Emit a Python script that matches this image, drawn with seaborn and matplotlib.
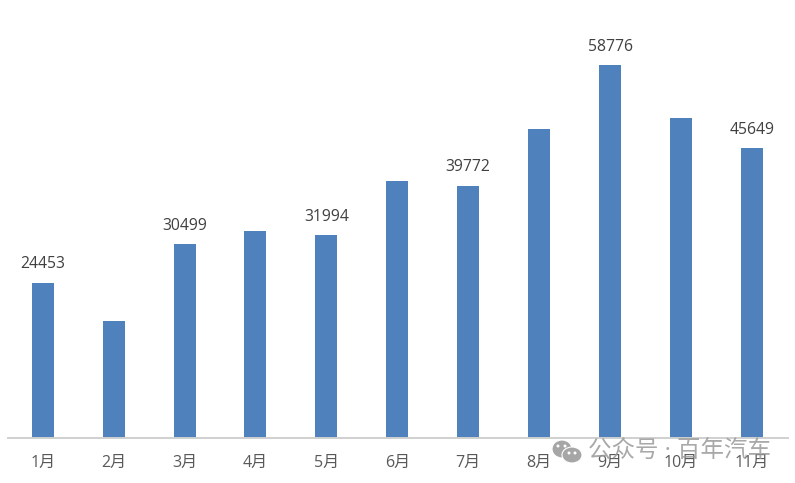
import matplotlib
matplotlib.use("Agg")
import matplotlib.pyplot as plt
from matplotlib.patches import Ellipse
from matplotlib.transforms import IdentityTransform
import seaborn as sns
import pandas as pd

months = ['1月', '2月', '3月', '4月', '5月', '6月', '7月', '8月', '9月', '10月', '11月']
sales = [24453, 18450, 30499, 32600, 31994, 40500, 39772, 48700, 58776, 50400, 45649]
labelled = ['1月', '3月', '5月', '7月', '9月', '11月']
watermark = '公众号 · 百年汽车'

sns.set_theme(style='white')
plt.rcParams['font.family'] = ['Open Sans', 'Noto Sans CJK SC', 'DejaVu Sans']

df = pd.DataFrame({'month': months, 'sales': sales})

W, H = 795, 483
fig = plt.figure(figsize=(W / 100, H / 100), dpi=100)
ax = fig.add_axes([8 / W, 1 - 438 / H, 780 / W, 438 / H])
sns.barplot(data=df, x='month', y='sales', color='#4f81bd', saturation=1, width=0.31, linewidth=0, ax=ax)

ax.set_xlim(-0.49, 10.51)
ax.set_ylim(0, 438 * 157.6)
ax.set_xlabel('')
ax.set_ylabel('')
ax.set_yticks([])
ax.tick_params(axis='x', length=0, labelsize=11.5, labelcolor='#595959', pad=12)
sns.despine(ax=ax, left=True)
ax.spines['bottom'].set_color('#d0d0d0')
ax.spines['bottom'].set_linewidth(1.4)

for i, m in enumerate(months):
    if m in labelled:
        ax.annotate(str(sales[i]), (i, sales[i]), xytext=(0, 7.5), textcoords='offset points',
                    ha='center', va='bottom', fontsize=11.3, color='#404040')

# watermark sits on top of the tick labels, same as the source picture
fig.text(679 / W, 1 - 452 / H, watermark, ha='center', va='center', fontsize=16.9, color='#9a9a9a', alpha=0.85)

# small wechat icon: two bubbles with eyes
for cx, cy, w, h, col in [(562, 449, 20, 18, '#a6a6a6'), (572, 455, 20, 16, '#a6a6a6')]:
    fig.add_artist(Ellipse((cx, H - cy), w, h, transform=IdentityTransform(), fc=col, ec='white', lw=0.8))
for cx, cy in [(558, 446), (565, 446), (569, 453), (575, 453)]:
    fig.add_artist(Ellipse((cx, H - cy), 3, 3, transform=IdentityTransform(), fc='white', ec='none'))

fig.savefig('out.png', dpi=100)
